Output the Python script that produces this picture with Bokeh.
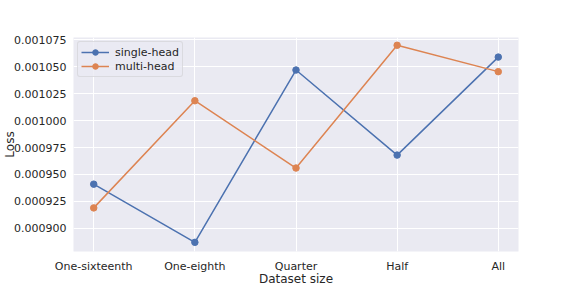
from bokeh.plotting import figure
from bokeh.models import FixedTicker, PrintfTickFormatter, Legend, LegendItem
from bokeh.embed import file_html
from bokeh.resources import INLINE

categories = ["One-sixteenth", "One-eighth", "Quarter", "Half", "All"]
single_head = [0.000941, 0.000887, 0.001047, 0.000968, 0.001059]
multi_head = [0.000919, 0.0010185, 0.000956, 0.001070, 0.0010455]
y_ticks = [0.000900, 0.000925, 0.000950, 0.000975, 0.001000, 0.001025, 0.001050, 0.001075]

xs = list(range(len(categories)))

p = figure(width=576, height=288, output_backend="svg", toolbar_location=None,
           x_range=(-0.2, 4.2), y_range=(0.0008785, 0.0010772),
           min_border_left=73, min_border_right=58, min_border_top=37, min_border_bottom=37)

p.background_fill_color = "#eaeaf2"
p.border_fill_color = "white"
p.outline_line_color = None

for ax in (p.xaxis[0], p.yaxis[0]):
    ax.axis_line_color = None
    ax.major_tick_line_color = None
    ax.minor_tick_line_color = None
    ax.major_tick_out = 0
    ax.major_tick_in = 0
    ax.minor_tick_out = 0
    ax.minor_tick_in = 0
    ax.major_label_text_font = "DejaVu Sans"
    ax.major_label_text_font_size = "11px"
    ax.major_label_text_color = "#262626"
    ax.axis_label_text_font = "DejaVu Sans"
    ax.axis_label_text_font_size = "12px"
    ax.axis_label_text_font_style = "normal"
    ax.axis_label_text_color = "#262626"

p.xaxis.ticker = FixedTicker(ticks=xs)
p.xaxis.major_label_overrides = {i: c for i, c in enumerate(categories)}
p.xaxis.major_label_standoff = 8
p.xaxis.axis_label = "Dataset size"
p.xaxis.axis_label_standoff = -4
p.xaxis.axis_label_text_baseline = "middle"

p.yaxis.ticker = FixedTicker(ticks=y_ticks)
p.yaxis.formatter = PrintfTickFormatter(format="%.6f")
p.yaxis.major_label_standoff = 7
p.yaxis.axis_label = "Loss"
p.yaxis.axis_label_standoff = -6

p.xgrid.grid_line_color = "white"
p.ygrid.grid_line_color = "white"
p.xgrid.grid_line_width = 1
p.ygrid.grid_line_width = 1

blue = "#4c72b0"
orange = "#dd8452"

l1 = p.line(xs, single_head, line_color=blue, line_width=1.5)
c1 = p.scatter(xs, single_head, size=6.5, fill_color=blue, line_color=blue)
l2 = p.line(xs, multi_head, line_color=orange, line_width=1.5)
c2 = p.scatter(xs, multi_head, size=6.5, fill_color=orange, line_color=orange)

legend = Legend(items=[LegendItem(label="single-head", renderers=[l1, c1]),
                       LegendItem(label="multi-head", renderers=[l2, c2])],
                location="top_left")
legend.label_text_font = "DejaVu Sans"
legend.label_text_font_size = "11px"
legend.label_text_color = "#262626"
legend.background_fill_color = "#eaeaf2"
legend.background_fill_alpha = 0.8
legend.border_line_color = "#cccccc"
legend.border_radius = 3
legend.margin = 4
legend.padding = 3
legend.spacing = 0
legend.glyph_height = 14
legend.glyph_width = 28
legend.label_height = 14
legend.label_standoff = 6
p.add_layout(legend)

open("out.html", "w").write(file_html(p, INLINE))
